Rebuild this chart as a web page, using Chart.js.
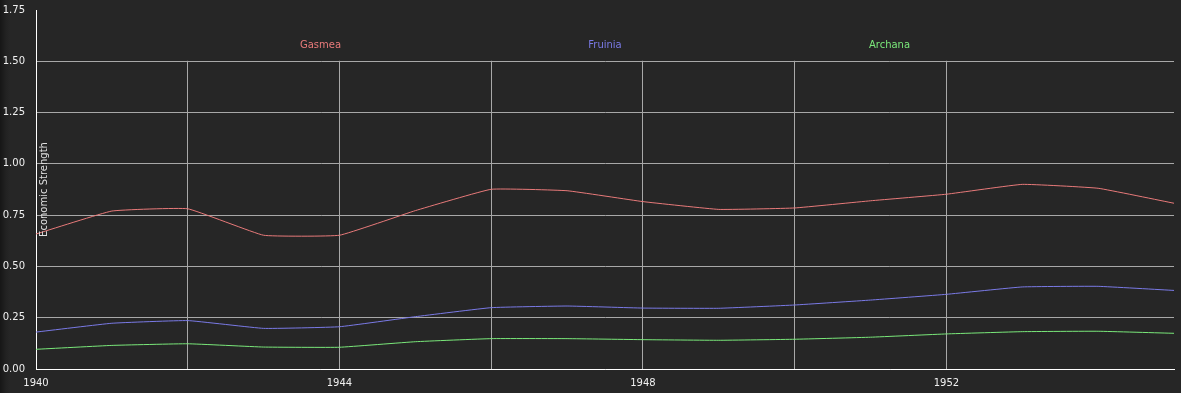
<!DOCTYPE html>
<html>
<head>
<meta charset="utf-8">
<script src="https://cdn.jsdelivr.net/npm/chart.js@4"></script>
<style>
html,body{margin:0;padding:0;background:#262626;}
body{width:1181px;height:393px;overflow:hidden;background:linear-gradient(to right,#161616 0px,#222 6px,#262626 10px,#262626 100%);}
#wrap{position:absolute;left:0;top:0;width:1181px;height:393px;}
</style>
</head>
<body>
<div id="wrap"><canvas id="c" width="1181" height="393"></canvas></div>
<script>
const years = [1940,1941,1942,1943,1944,1945,1946,1947,1948,1949,1950,1951,1952,1953,1954,1955];
const gasmea  = [0.658,0.770,0.781,0.652,0.652,0.772,0.876,0.869,0.816,0.778,0.785,0.820,0.852,0.900,0.881,0.808];
const fruinia = [0.180,0.223,0.236,0.198,0.206,0.255,0.299,0.307,0.297,0.296,0.312,0.336,0.364,0.400,0.403,0.383];
const archana = [0.096,0.115,0.123,0.107,0.106,0.133,0.148,0.148,0.143,0.140,0.145,0.155,0.171,0.182,0.184,0.174];
const seriesNames = ['Gasmea','Fruinia','Archana'];
const seriesColors = ['#e87a7a','#7a7ae6','#7ae87a'];
const yTitle = 'Economic Strength';

const FONT = '"DejaVu Sans", Verdana, sans-serif';

const mk = (arr) => arr.map((v,i)=>({x:years[i], y:v}));

const overlay = {
  id:'overlay',
  beforeDatasetsDraw(chart){
    const {ctx, chartArea:a, scales:{y}} = chart;
    const yb = y.getPixelForValue(1.5);
    ctx.save();
    ctx.fillStyle = '#262626';
    ctx.fillRect(a.left+1, a.top-2, a.right-a.left+4, yb - a.top + 1.5);
    ctx.restore();
  },
  afterDraw(chart){
    const {ctx, chartArea:a} = chart;
    ctx.save();
    ctx.font = '10px ' + FONT;
    ctx.textAlign = 'center';
    ctx.textBaseline = 'middle';
    const w = a.right - a.left;
    seriesNames.forEach((n,i)=>{
      ctx.fillStyle = seriesColors[i];
      ctx.fillText(n, a.left + w/4*(i+1), 45);
    });
    ctx.translate(a.left + 8, (a.top + a.bottom)/2);
    ctx.rotate(-Math.PI/2);
    ctx.fillStyle = '#e0e0e0';
    ctx.fillText(yTitle, 0, 0);
    ctx.restore();
  }
};

new Chart(document.getElementById('c'), {
  type:'line',
  data:{
    datasets:[
      {label:seriesNames[0], data:mk(gasmea), borderColor:seriesColors[0]},
      {label:seriesNames[1], data:mk(fruinia), borderColor:seriesColors[1]},
      {label:seriesNames[2], data:mk(archana), borderColor:seriesColors[2]}
    ].map(d=>Object.assign(d,{borderWidth:1, pointRadius:0, tension:0.1, fill:false}))
  },
  options:{
    responsive:false,
    animation:false,
    layout:{padding:{top:10, right:7, left:0, bottom:0}},
    plugins:{legend:{display:false}, tooltip:{enabled:false}},
    scales:{
      x:{
        type:'linear', min:1940, max:1955,
        afterFit(s){ s.height = 24; s.paddingLeft = 0; s.paddingRight = 0; },
        ticks:{stepSize:2, color:'#f0f0f0', font:{family:FONT, size:10}, padding:8, maxRotation:0, autoSkip:false,
          callback:(v)=> ((v-1940)%4===0 ? String(v) : '')},
        grid:{color:(c)=> (c.tick && c.tick.value > 1952 ? 'rgba(0,0,0,0)' : '#a8a8a8'), lineWidth:1, drawTicks:false},
        border:{color:'#ffffff', width:1}
      },
      y:{
        min:0, max:1.75,
        afterFit(s){ s.width = 36; s.paddingTop = 0; s.paddingBottom = 0; },
        ticks:{stepSize:0.25, color:'#f0f0f0', font:{family:FONT, size:10}, padding:11,
          callback:(v)=>v.toFixed(2)},
        grid:{color:'#a8a8a8', lineWidth:1, drawTicks:false},
        border:{color:'#ffffff', width:1}
      }
    }
  },
  plugins:[overlay]
});
</script>
</body>
</html>
